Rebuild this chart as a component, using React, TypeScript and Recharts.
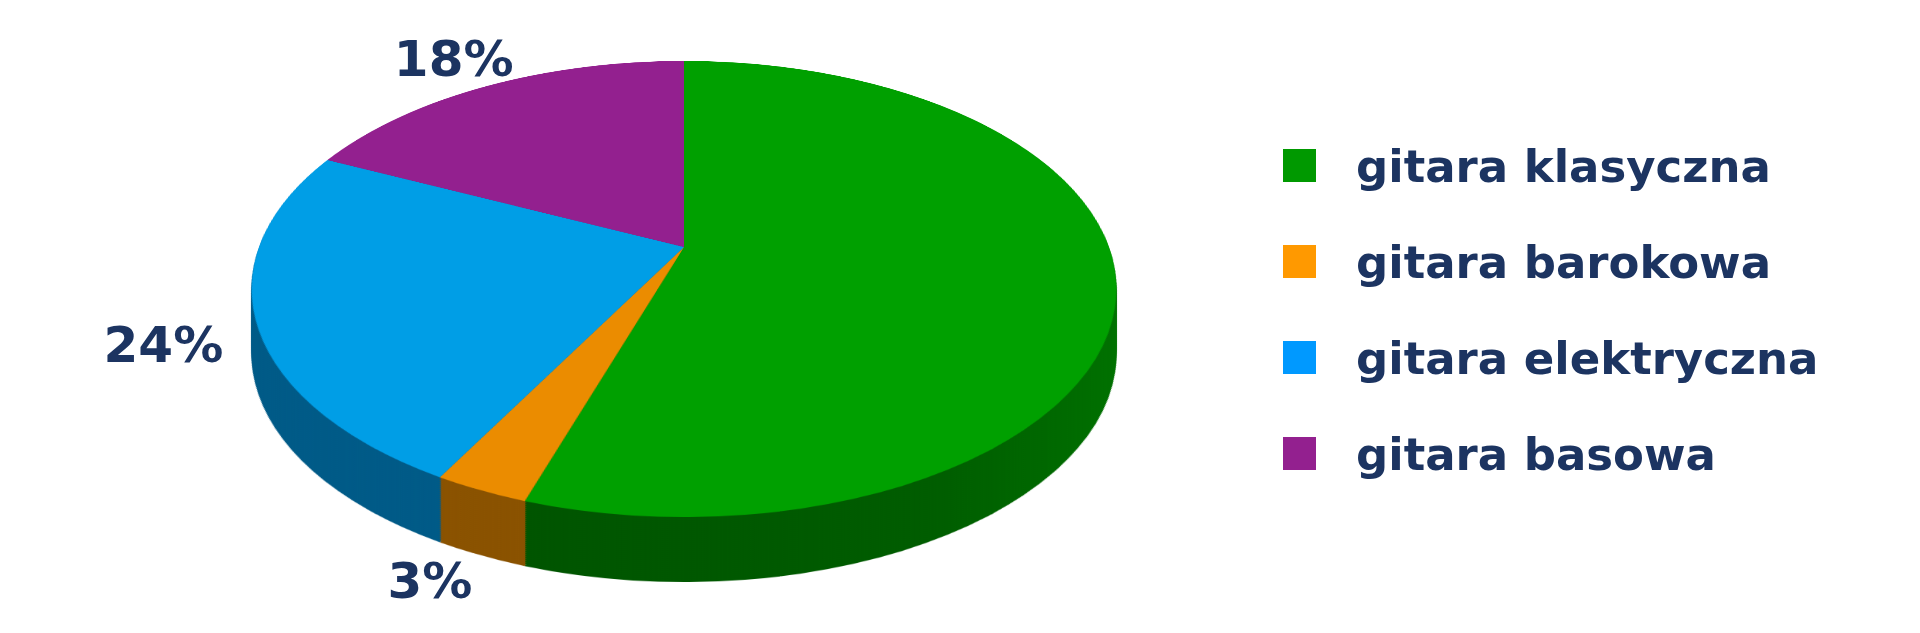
import { Cell, Legend, Pie, PieChart } from "recharts";

const categories = ["gitara klasyczna", "gitara barokowa", "gitara elektryczna", "gitara basowa"];
const shares = [55, 3, 24, 18];
const showLabel = [false, true, true, true];

const swatchColors = ["#009900", "#ff9900", "#0099ff", "#93208f"];
const topColors = ["#00a000", "#eb8c00", "#009ee6", "#93208f"];
const sideColors = ["#006000", "#8a5200", "#005a87", "#5c1459"];

const data = categories.map((name, i) => ({ name, value: shares[i] }));

// tilted disc: css perspective + rotateX, side wall built from stacked layers
const SIZE = 860;
const R = 425;
const PERSP = 1973;
const TILT = 58.77;
const DEPTH = 65;
const APEX_X = 684;
const APEX_Y = 247;
const TEXT = "#1c3461";
const FONT = "'DejaVu Sans', Verdana, sans-serif";

const wallOffsets = Array.from({ length: 33 }, (_, i) => DEPTH - i * 2);

function PieLayer({ offset, top }: { offset: number; top: boolean }) {
  const gradId = `greenWall${offset}`;
  return (
    <div
      style={{
        position: "absolute",
        left: APEX_X - SIZE / 2,
        top: APEX_Y - SIZE / 2,
        width: SIZE,
        height: SIZE,
        transform: `translateY(${offset}px) perspective(${PERSP}px) rotateX(${TILT}deg)`
      }}
    >
      <PieChart width={SIZE} height={SIZE} margin={{ top: 0, right: 0, bottom: 0, left: 0 }}>
        <defs>
          <linearGradient id={gradId} x1="0" y1="0" x2="1" y2="0">
            <stop offset="0%" stopColor="#005400" />
            <stop offset="60%" stopColor="#005c00" />
            <stop offset="100%" stopColor="#007200" />
          </linearGradient>
        </defs>
        <Pie
          data={data}
          dataKey="value"
          nameKey="name"
          cx={SIZE / 2}
          cy={SIZE / 2}
          outerRadius={R}
          startAngle={90}
          endAngle={-270}
          stroke="none"
          isAnimationActive={false}
        >
          {data.map((d, i) => (
            <Cell
              key={d.name}
              fill={top ? topColors[i] : i === 0 ? `url(#${gradId})` : sideColors[i]}
            />
          ))}
        </Pie>
      </PieChart>
    </div>
  );
}

const project = (x: number, y: number) => {
  const t = (TILT * Math.PI) / 180;
  const z = y * Math.sin(t);
  const k = PERSP / (PERSP - z);
  return { x: x * k, y: y * Math.cos(t) * k };
};

const renderLabel = (props: any) => {
  const { cx, cy, midAngle, outerRadius, index, value } = props;
  if (!showLabel[index]) return null;
  const rad = (midAngle * Math.PI) / 180;
  const r = outerRadius * 1.2;
  const p = project(r * Math.cos(rad), -r * Math.sin(rad));
  const drop = Math.max(0, -Math.sin(rad)) * DEPTH * 0.5;
  return (
    <text
      x={cx + p.x}
      y={cy + p.y + drop}
      textAnchor="middle"
      dominantBaseline="central"
      fontSize={50}
      fontWeight="bold"
      fontFamily={FONT}
      fill={TEXT}
    >
      {`${value}%`}
    </text>
  );
};

const renderLegend = () => (
  <svg width={580} height={420}>
    {categories.map((name, i) => (
      <g key={name} transform={`translate(0, ${16 + i * 96})`}>
        <rect width={33} height={33} fill={swatchColors[i]} />
        <text x={73} y={33} fontSize={45} fontWeight="bold" fontFamily={FONT} fill={TEXT}>
          {name}
        </text>
      </g>
    ))}
  </svg>
);

export default function App() {
  return (
    <div
      style={{
        position: "fixed",
        left: 0,
        top: 0,
        width: 1920,
        height: 633,
        background: "#fff",
        overflow: "hidden"
      }}
    >
      {wallOffsets.map((o) => (
        <PieLayer key={o} offset={o} top={false} />
      ))}
      <PieLayer offset={0} top />
      <div style={{ position: "absolute", left: 0, top: 0 }}>
        <PieChart width={1920} height={633} margin={{ top: 0, right: 0, bottom: 0, left: 0 }}>
          <Pie
            data={data}
            dataKey="value"
            nameKey="name"
            cx={APEX_X}
            cy={APEX_Y}
            outerRadius={R}
            startAngle={90}
            endAngle={-270}
            stroke="none"
            label={renderLabel}
            labelLine={false}
            isAnimationActive={false}
          >
            {data.map((d) => (
              <Cell key={d.name} fill="transparent" />
            ))}
          </Pie>
          <Legend
            content={renderLegend}
            layout="vertical"
            align="right"
            verticalAlign="top"
            wrapperStyle={{ position: "absolute", left: 1283, top: 133, width: 580, height: 420 }}
          />
        </PieChart>
      </div>
    </div>
  );
}
